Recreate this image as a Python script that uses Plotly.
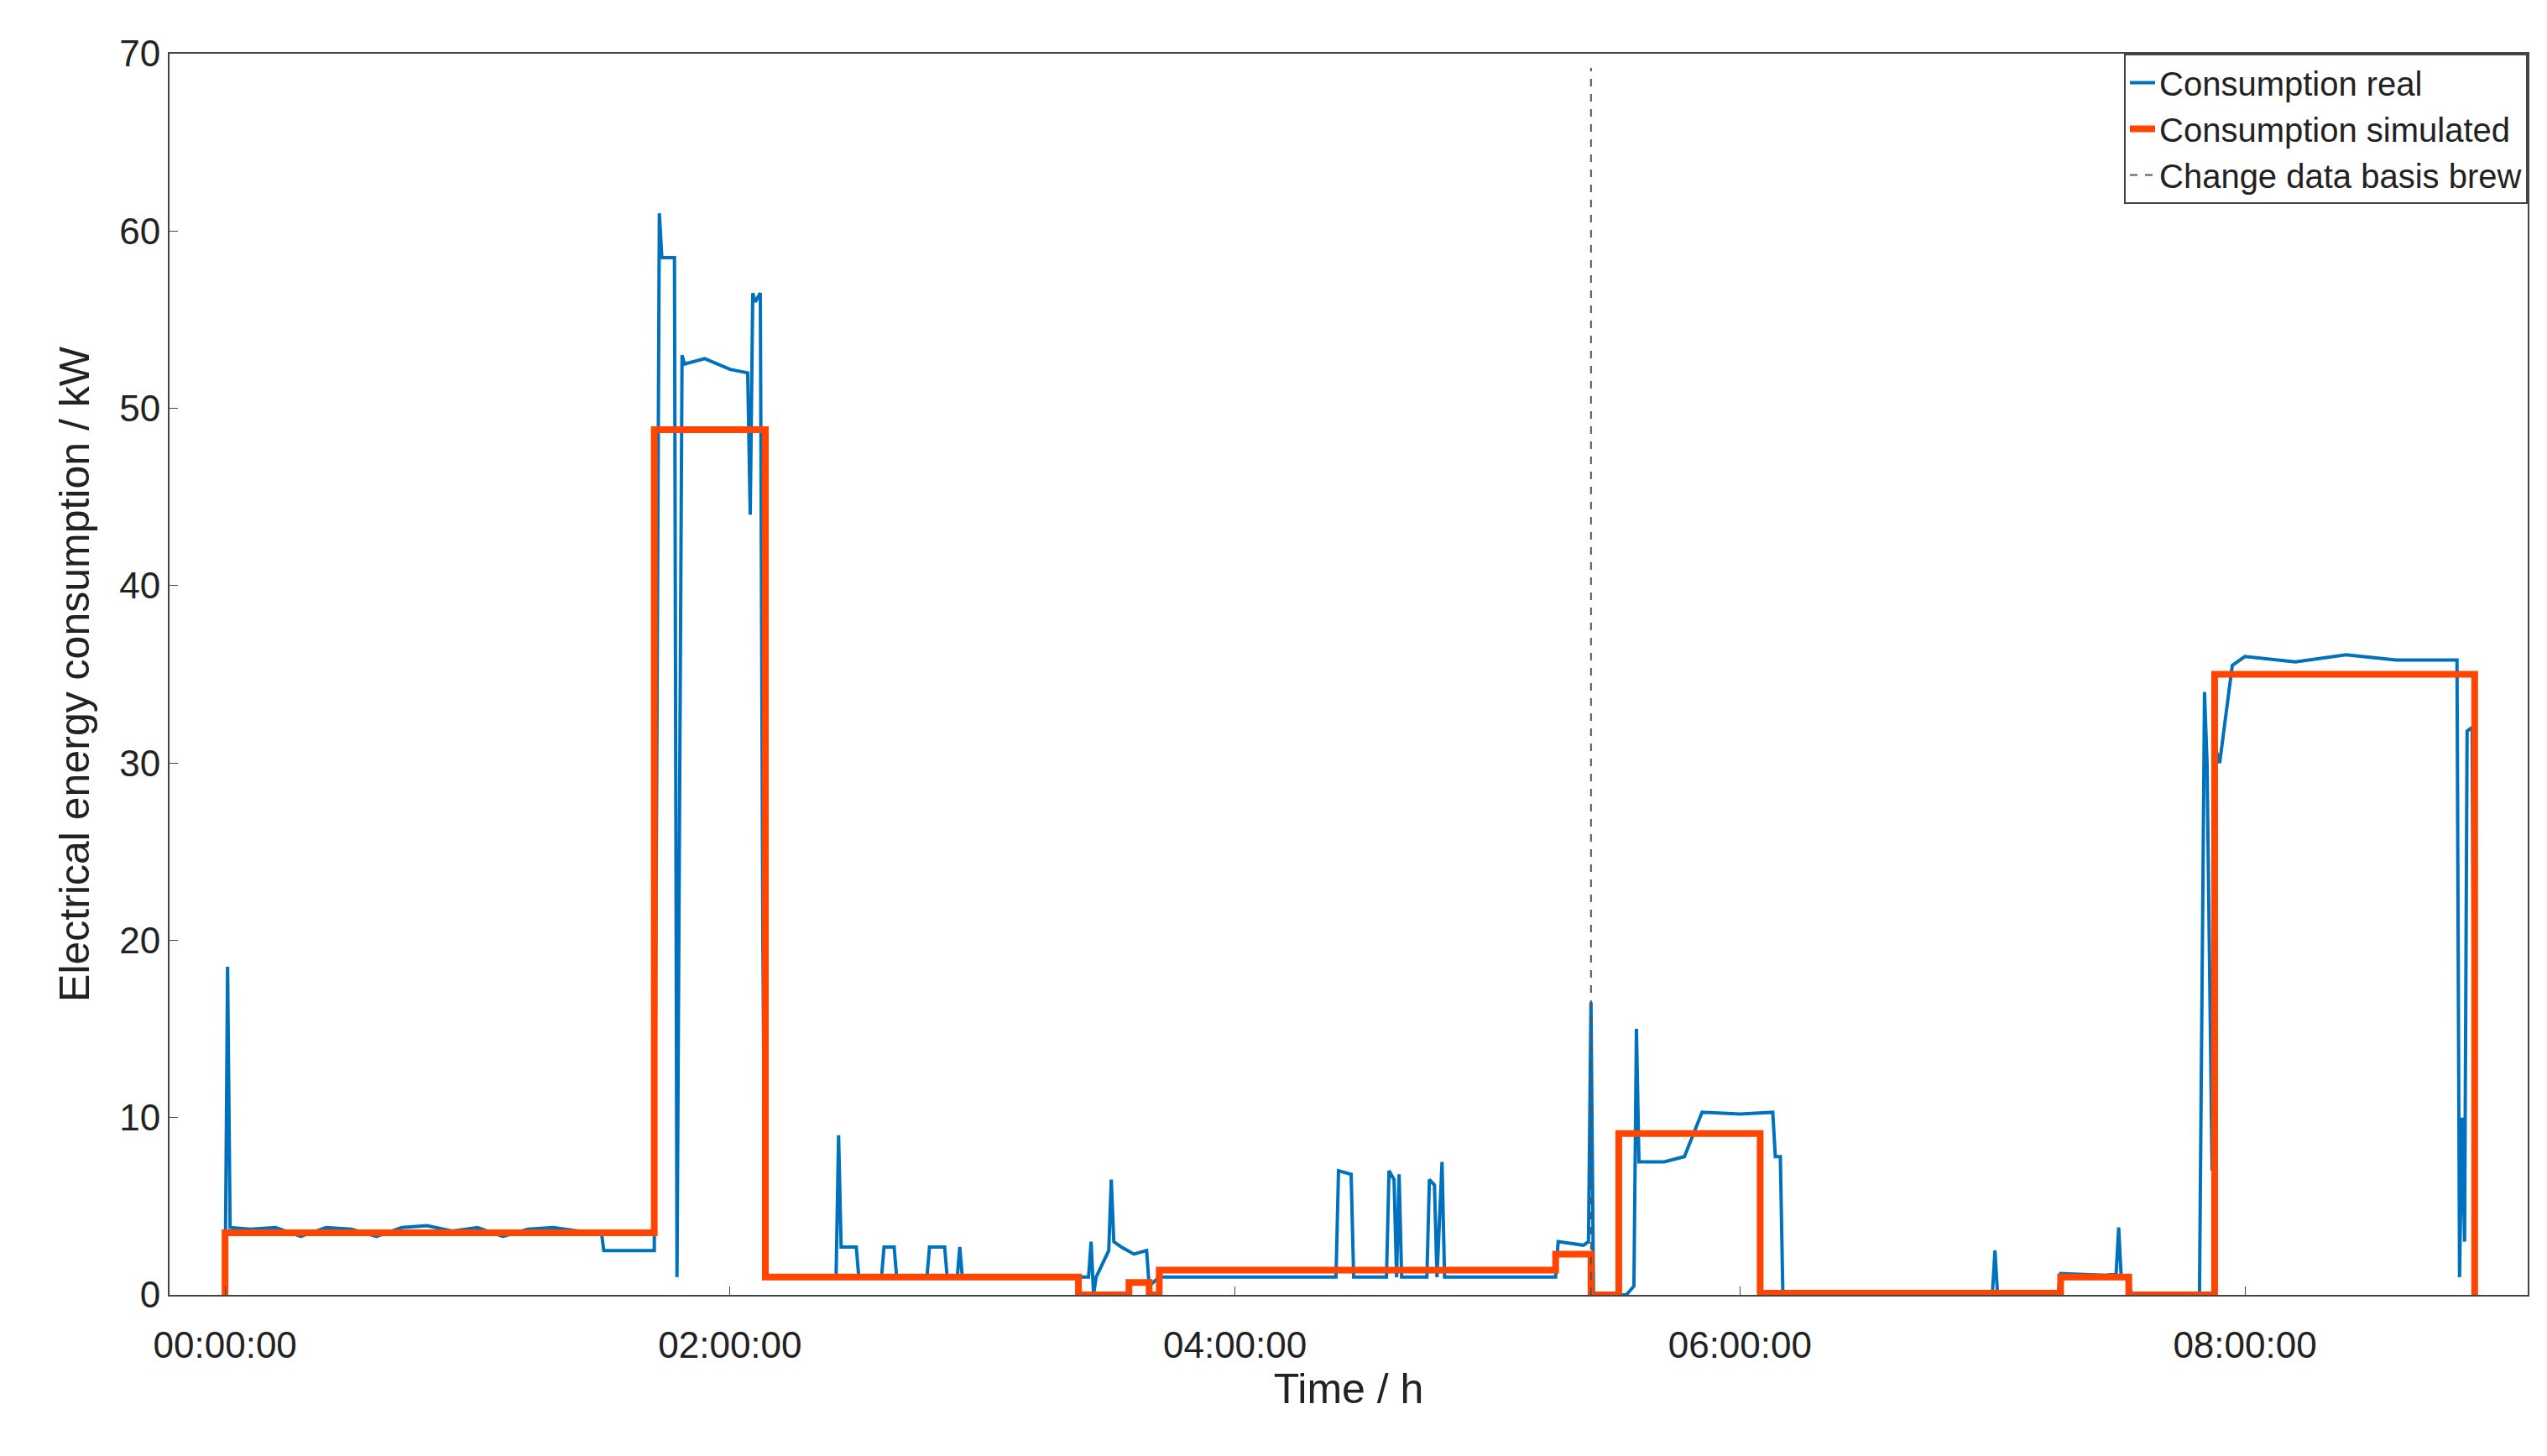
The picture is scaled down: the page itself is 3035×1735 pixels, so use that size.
import plotly.graph_objects as go

# Real consumption (hours, kW)
real_t = [0.0, 0.01, 0.02, 0.1, 0.2, 0.3, 0.4, 0.5, 0.6, 0.7, 0.8, 0.9, 1.0, 1.1, 1.2, 1.3, 1.4, 1.49, 1.5, 1.7,
          1.71, 1.72, 1.73, 1.78, 1.79, 1.80, 1.81, 1.82, 1.9, 2.0, 2.07, 2.08, 2.09, 2.10, 2.12, 2.13, 2.14,
          2.42, 2.43, 2.44, 2.45, 2.5, 2.51, 2.6, 2.61, 2.65, 2.66, 2.78, 2.79, 2.85, 2.86, 2.9, 2.91, 2.92,
          3.42, 3.43, 3.44, 3.45, 3.5, 3.51, 3.52, 3.55, 3.6, 3.65, 3.66, 3.7,
          4.4, 4.41, 4.46, 4.47, 4.6, 4.61, 4.63, 4.64, 4.65, 4.66, 4.76, 4.77, 4.79, 4.80, 4.82, 4.83,
          5.27, 5.28, 5.38, 5.40, 5.41, 5.42, 5.55, 5.58, 5.59, 5.60, 5.7, 5.78, 5.85, 6.0, 6.13, 6.14, 6.16, 6.17,
          7.0, 7.01, 7.02, 7.03, 7.26, 7.27, 7.45, 7.49, 7.50, 7.51, 7.54, 7.55, 7.82, 7.84, 7.85, 7.87, 7.88, 7.90,
          7.95, 8.0, 8.2, 8.4, 8.6, 8.84, 8.85, 8.86, 8.87, 8.88, 8.90, 8.91, 8.92]
real_v = [0.0, 18.5, 3.8, 3.7, 3.8, 3.3, 3.8, 3.7, 3.3, 3.8, 3.9, 3.6, 3.8, 3.3, 3.7, 3.8, 3.6, 3.6, 2.5, 2.5,
          30.0, 61.0, 58.5, 58.5, 1.0, 30.0, 53.0, 52.5, 52.8, 52.2, 52.0, 44.0, 56.5, 56.0, 56.5, 20.0, 1.0,
          1.0, 9.0, 2.7, 2.7, 2.7, 1.0, 1.0, 2.7, 2.7, 1.0, 1.0, 2.7, 2.7, 1.0, 1.0, 2.7, 1.0,
          1.0, 3.0, 0.0, 1.0, 2.5, 6.5, 3.0, 2.7, 2.3, 2.5, 0.5, 1.0,
          1.0, 7.0, 6.8, 1.0, 1.0, 7.0, 6.5, 1.0, 6.8, 1.0, 1.0, 6.5, 6.2, 1.0, 7.5, 1.0,
          1.0, 3.0, 2.8, 3.0, 16.5, 0.0, 0.0, 0.5, 15.0, 7.5, 7.5, 7.8, 10.3, 10.2, 10.3, 7.8, 7.8, 0.0,
          0.1, 2.5, 0.1, 0.1, 0.1, 1.2, 1.1, 1.2, 3.8, 1.0, 1.0, 0.0, 0.0, 34.0, 30.0, 7.0, 31.0, 30.0,
          35.5, 36.0, 35.7, 36.1, 35.8, 35.8, 1.0, 10.0, 3.0, 31.8, 32.0, 1.0, 1.0]

# Simulated consumption (step breakpoints)
sim_t = [0.0, 0.0, 1.70, 1.70, 2.14, 2.14, 3.38, 3.38, 3.58, 3.58, 3.66, 3.66, 3.70, 3.70, 5.27, 5.27, 5.41, 5.41,
         5.52, 5.52, 6.08, 6.08, 6.90, 6.90, 7.27, 7.27, 7.54, 7.54, 7.88, 7.88, 8.91, 8.91]
sim_v = [0.0, 3.5, 3.5, 48.8, 48.8, 1.0, 1.0, 0.0, 0.0, 0.7, 0.7, 0.0, 0.0, 1.4, 1.4, 2.3, 2.3, 0.0,
         0.0, 9.1, 9.1, 0.1, 0.1, 0.1, 0.1, 1.0, 1.0, 0.0, 0.0, 35.0, 35.0, 0.0]

change_t = 5.41
tick_vals = [0, 2, 4, 6, 8]
tick_text = ["00:00:00", "02:00:00", "04:00:00", "06:00:00", "08:00:00"]

fig = go.Figure()
fig.add_trace(go.Scatter(x=real_t, y=real_v, mode="lines", name="Consumption real",
                         line=dict(color="#0072BD", width=4)))
fig.add_trace(go.Scatter(x=sim_t, y=sim_v, mode="lines", name="Consumption simulated",
                         line=dict(color="#FF4500", width=8)))
fig.add_trace(go.Scatter(x=[change_t, change_t], y=[0, 69.2], mode="lines", name="Change data basis brew",
                         line=dict(color="#555555", width=2, dash="dash")))

font = "Liberation Sans, Arial, sans-serif"
fig.update_layout(
    width=3035, height=1735, paper_bgcolor="white", plot_bgcolor="white",
    margin=dict(l=194, r=31, t=56, b=200),
    font=dict(family=font, size=44, color="#222"),
    showlegend=True,
    legend=dict(x=1, y=1, xanchor="right", yanchor="top", bordercolor="#444", borderwidth=2,
                bgcolor="white", font=dict(size=40), tracegroupgap=0),
    xaxis=dict(range=[-0.22, 9.12], tickvals=tick_vals, ticktext=tick_text, showgrid=False,
               zeroline=False, showline=True, mirror=True, linecolor="#444", linewidth=2,
               ticks="inside", ticklen=10, ticklabelstandoff=20,
               title=dict(text="Time / h", font=dict(size=50), standoff=10)),
    yaxis=dict(range=[0, 70], dtick=10, showgrid=False, zeroline=False, showline=True, mirror=True,
               linecolor="#444", linewidth=2, ticks="inside", ticklen=10,
               title=dict(text="Electrical energy consumption / kW", font=dict(size=50), standoff=20)),
)
fig.write_html("out.html")
